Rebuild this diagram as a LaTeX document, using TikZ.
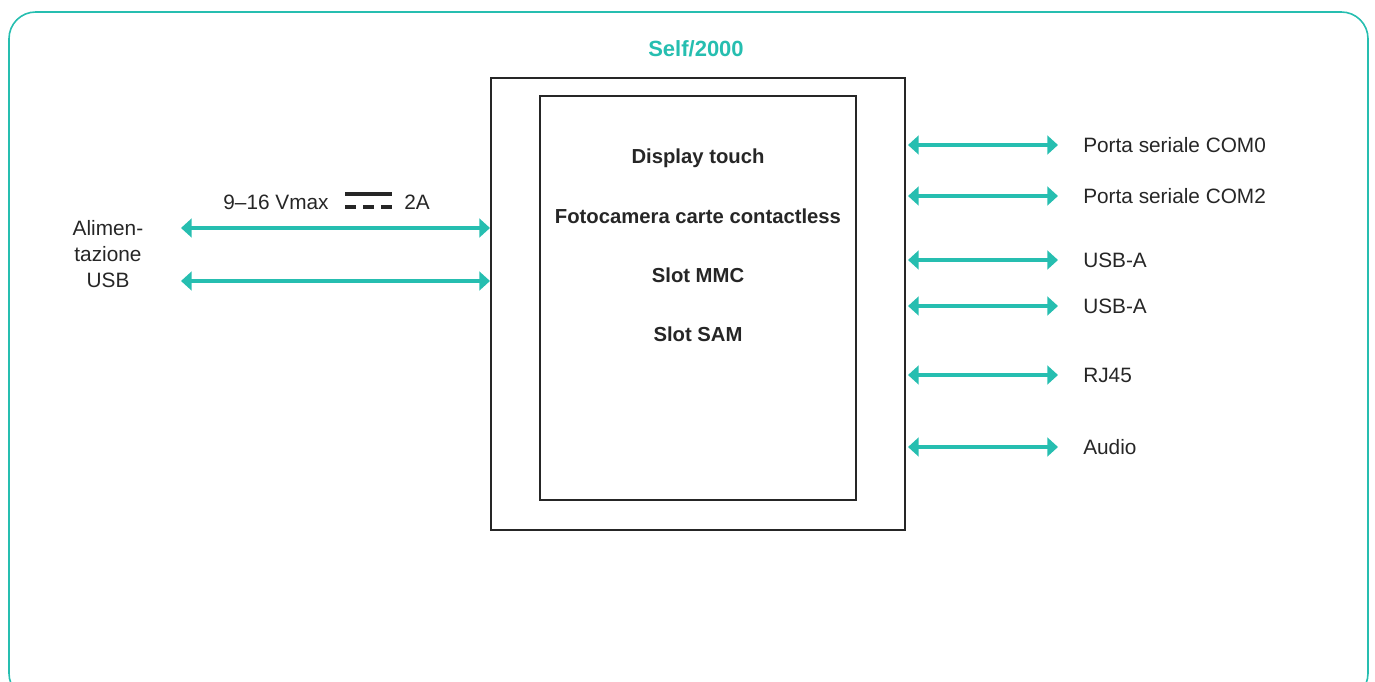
\documentclass[tikz,border=0pt]{standalone}
\usepackage{fontspec}
\setmainfont{Liberation Sans}
\usepackage{tikz}
\usetikzlibrary{arrows.meta}
\definecolor{verdeacqua}{RGB}{38,190,176}
\tikzstyle{scatola} = [rectangle, draw=black!85, line width=1.5pt]
\tikzstyle{voce} = [font=\fontsize{15.2}{18}\selectfont\bfseries, text=black!85]
\tikzstyle{porta} = [font=\fontsize{15.6}{18}\selectfont, text=black!85, anchor=west, inner xsep=0pt]
\tikzstyle{collegamento} = [draw=verdeacqua, line width=2.3pt, {Triangle[length=8pt,width=14pt]}-{Triangle[length=8pt,width=14pt]}]

\begin{document}
\begin{tikzpicture}[x=0.75pt, y=-0.75pt]

        \useasboundingbox (0,0) rectangle (1375,682);
        \clip (0,0) rectangle (1375,682);
        \draw[verdeacqua, line width=1.2pt, rounded corners=20pt] (9,12) rectangle (1368,700);

        \node (titolo) [font=\fontsize{16.5}{18}\selectfont\bfseries, text=verdeacqua] at (696,49) {Self/2000};

        \node (esterno) [scatola, anchor=north west, minimum width=414*0.75pt, minimum height=452*0.75pt] at (490,77) {};
        \node (interno) [scatola, anchor=north west, minimum width=316*0.75pt, minimum height=404*0.75pt] at (539,95) {};

        \node (V1) [voce] at (698,158) {Display touch};
        \node (V2) [voce] at (698,216) {Fotocamera carte contactless};
        \node (V3) [voce] at (698,275) {Slot MMC};
        \node (V4) [voce] at (698,334) {Slot SAM};

        % lato alimentazione
        \node (alim) [font=\fontsize{15.6}{19.5}\selectfont, text=black!85, align=center] at (108,254) {Alimen-\\tazione\\USB};
        \coordinate (A1) at (181,228);
        \coordinate (A2) at (181,281);
        \draw[collegamento] (A1) -- (A1 -| esterno.west);
        \draw[collegamento] (A2) -- (A2 -| esterno.west);

        \node (tens) [porta, anchor=center] at (276,202) {9--16 Vmax};
        \node (corr) [porta, anchor=center] at (417,202) {2A};
        \draw[black!85, line width=3pt] (345,194) -- (392,194);
        \draw[black!85, line width=3pt, dash pattern=on 8.25pt off 5.25pt] (345,207) -- (392,207);

        % porte a destra
        \node (P1) [porta] at (1083,145) {Porta seriale COM0};
        \node (P2) [porta] at (1083,196) {Porta seriale COM2};
        \node (P3) [porta] at (1083,260) {USB-A};
        \node (P4) [porta] at (1083,306) {USB-A};
        \node (P5) [porta] at (1083,375) {RJ45};
        \node (P6) [porta] at (1083,447) {Audio};

        \foreach \p in {P1,P2,P3,P4,P5,P6}
            \draw[collegamento] ([xshift=1.5pt]esterno.east |- \p) -- ([xshift=-18.75pt]\p.west);

    \end{tikzpicture}
\end{document}
